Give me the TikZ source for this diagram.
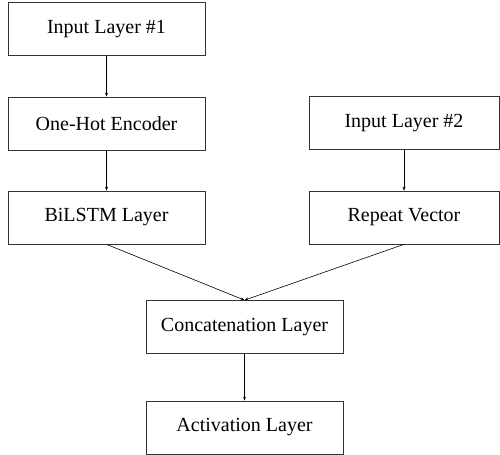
\documentclass[tikz,border=0pt]{standalone}
\usepackage{fontspec}
\setmainfont{Liberation Serif}
\usetikzlibrary{arrows.meta}
\tikzset{layerbox/.style={draw=black!80,line width=.7bp,minimum width=197bp,minimum height=53bp,inner sep=0pt,font=\fontsize{20bp}{24bp}\selectfont},
  flow/.style={-{Stealth[length=4bp,width=3bp]},line width=.6bp}}
\begin{document}
\begin{tikzpicture}[x=1bp,y=-1bp]
\useasboundingbox (0,0) rectangle (500,455);
\node[layerbox] (inone) at (106.5,29) {Input Layer \#1};
\node[layerbox] (onehot) at (106.5,123.5) {One-Hot Encoder};
\node[layerbox] (bilstm) at (106.5,217.5) {BiLSTM Layer};
\node[layerbox,minimum width=190bp] (intwo) at (404,123) {Input Layer \#2};
\node[layerbox,minimum width=190bp] (repeat) at (404,217.5) {Repeat Vector};
\node[layerbox] (concat) at (244.5,327) {Concatenation Layer};
\node[layerbox] (activ) at (244.5,427.5) {Activation Layer};
\draw[flow] (inone) -- (onehot);
\draw[flow] (onehot) -- (bilstm);
\draw[flow] (intwo) -- (repeat);
\draw[flow] (bilstm.south) -- (concat.north);
\draw[flow] (repeat.south) -- (concat.north);
\draw[flow] (concat) -- (activ);
\end{tikzpicture}
\end{document}
